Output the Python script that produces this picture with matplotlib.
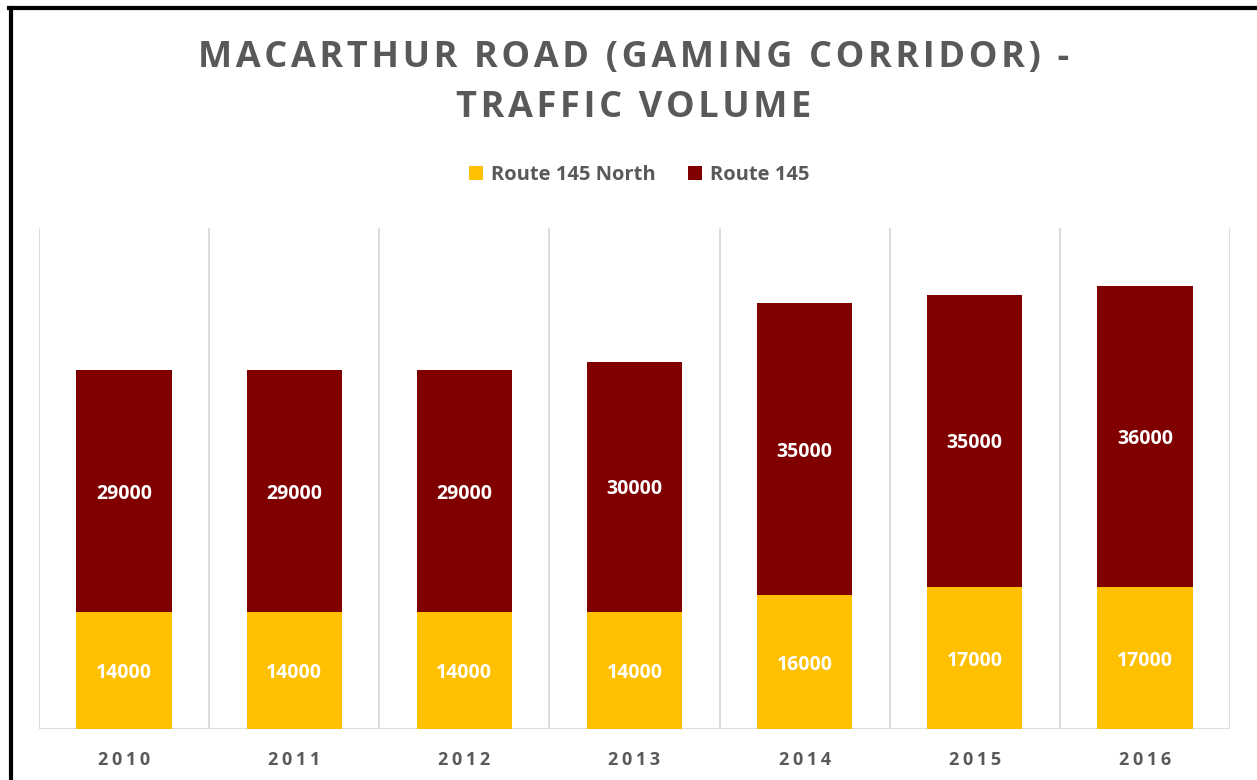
import matplotlib
matplotlib.use("Agg")
import matplotlib.pyplot as plt
from matplotlib.lines import Line2D

years = ["2010", "2011", "2012", "2013", "2014", "2015", "2016"]
route_145_north = [14000, 14000, 14000, 14000, 16000, 17000, 17000]
route_145 = [29000, 29000, 29000, 30000, 35000, 35000, 36000]

YELLOW = "#FFC000"
DARK_RED = "#800000"
GRAY = "#595959"
GRID = "#D9D9D9"

plt.rcParams["font.family"] = ["Open Sans", "DejaVu Sans"]


def spaced(s, sp="\u200a"):
    return sp.join(list(s))


fig = plt.figure(figsize=(12.57, 7.8), dpi=100)
W, H = 1257, 780
ax = fig.add_axes([39 / W, 1 - 729 / H, (1230 - 39) / W, (729 - 228) / H])

x = list(range(len(years)))
b1 = ax.bar(x, route_145_north, width=0.56, color=YELLOW, label="Route 145 North", zorder=3)
b2 = ax.bar(x, route_145, width=0.56, bottom=route_145_north, color=DARK_RED, label="Route 145", zorder=3)

for i in x:
    ax.text(i, route_145_north[i] / 2, f"{route_145_north[i]}", ha="center", va="center_baseline",
            color="white", fontsize=14, fontweight="bold", zorder=4)
    ax.text(i, route_145_north[i] + route_145[i] / 2, f"{route_145[i]}", ha="center", va="center_baseline",
            color="white", fontsize=14, fontweight="bold", zorder=4)

ax.set_xlim(-0.5, len(years) - 0.5)
ax.set_ylim(0, 60000)
for b in range(len(years) + 1):
    ax.axvline(b - 0.5, color=GRID, lw=1.3, zorder=1)
ax.axhline(0, color=GRID, lw=2, zorder=2)
for s in ax.spines.values():
    s.set_visible(False)
ax.set_yticks([])
ax.set_xticks(x)
ax.set_xticklabels([spaced(y, "\u2009") for y in years], color=GRAY,
                   fontsize=13, fontweight="bold")
ax.tick_params(axis="x", length=0, pad=16)

fig.text(634 / W, 1 - 58 / H, spaced("MACARTHUR ROAD (GAMING CORRIDOR) -"), ha="center", va="center",
         color=GRAY, fontsize=26, fontweight="bold")
fig.text(634 / W, 1 - 108 / H, spaced("TRAFFIC VOLUME"), ha="center", va="center",
         color=GRAY, fontsize=26, fontweight="bold")

leg = fig.legend(handles=[b1, b2], loc="center", bbox_to_anchor=(639 / W, 1 - 175 / H),
                 ncol=2, frameon=False, handlelength=0.7, handleheight=0.7,
                 handletextpad=0.4, columnspacing=1.6, prop={"weight": "bold", "size": 14.5})
for t in leg.get_texts():
    t.set_color(GRAY)

# border lines (left and top)
fig.add_artist(Line2D([10.5 / W, 10.5 / W], [0, 1 - 8 / H], color="black", lw=3, transform=fig.transFigure))
fig.add_artist(Line2D([9 / W, 1], [1 - 8 / H, 1 - 8 / H], color="black", lw=3, transform=fig.transFigure))

fig.savefig("out.png", dpi=100, facecolor="white")
